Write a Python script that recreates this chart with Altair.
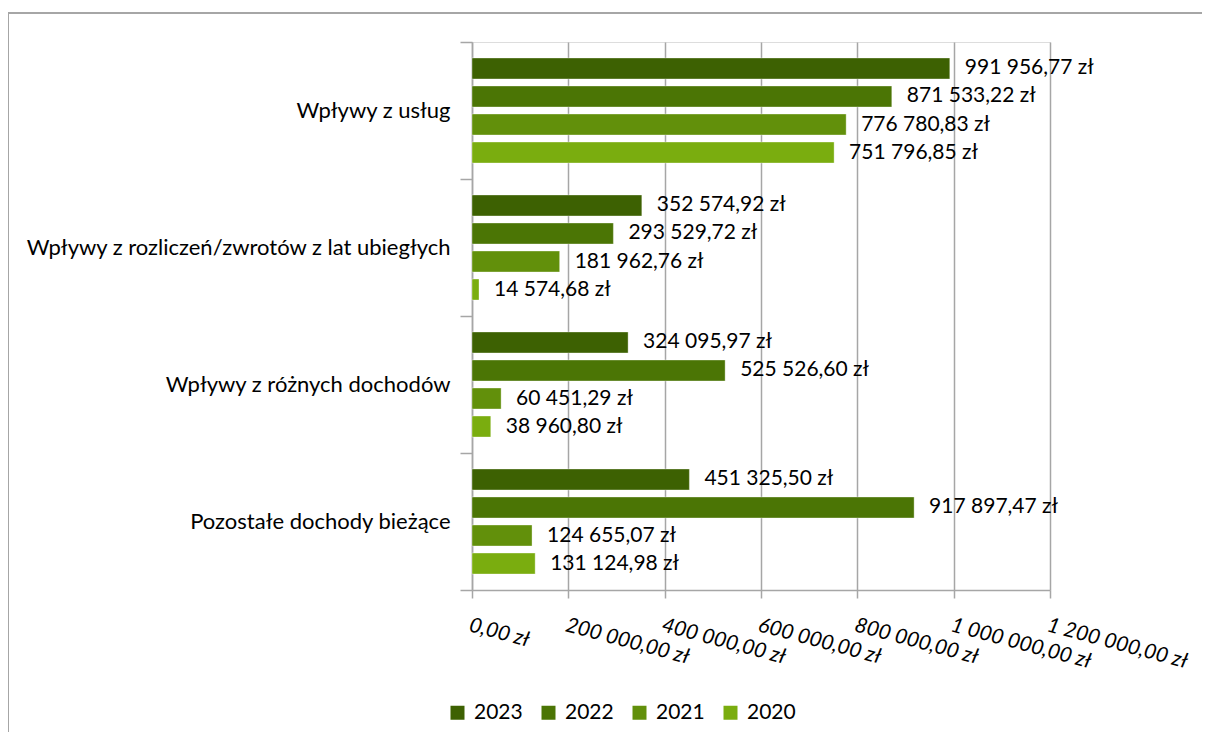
import altair as alt
import pandas as pd

categories = [
    "Wpływy z usług",
    "Wpływy z rozliczeń/zwrotów z lat ubiegłych",
    "Wpływy z różnych dochodów",
    "Pozostałe dochody bieżące",
]
years = ["2023", "2022", "2021", "2020"]
colors = ["#3d6102", "#4b7505", "#62900b", "#7aad0f"]

v2023 = [991956.77, 352574.92, 324095.97, 451325.50]
v2022 = [871533.22, 293529.72, 525526.60, 917897.47]
v2021 = [776780.83, 181962.76, 60451.29, 124655.07]
v2020 = [751796.85, 14574.68, 38960.80, 131124.98]

series = {"2023": v2023, "2022": v2022, "2021": v2021, "2020": v2020}


def pl(v):
    return f"{v:,.2f}".replace(",", " ").replace(".", ",") + " zł"


rows = []
for y in years:
    for c, v in zip(categories, series[y]):
        rows.append({"cat": c, "year": y, "value": v, "label": pl(v)})
df = pd.DataFrame(rows)

FONT = "Lato"
FS = 21
W, H = 578, 548

yenc = alt.Y(
    "cat:N",
    sort=categories,
    title=None,
    scale=alt.Scale(paddingInner=0, paddingOuter=0),
    axis=alt.Axis(
        labelFontSize=22,
        labelFont=FONT,
        labelColor="#000000",
        labelPadding=10,
        tickBand="extent",
        tickSize=12,
        tickColor="#a6a6a6",
        tickWidth=1.5,
        domainColor="#a6a6a6",
        domainWidth=1.5,
        grid=False,
        labelLimit=600,
    ),
)
yoff = alt.YOffset(
    "year:N",
    sort=years,
    scale=alt.Scale(paddingInner=0.25, paddingOuter=0.57),
)
xenc = alt.X(
    "value:Q",
    title=None,
    scale=alt.Scale(domain=[0, 1200000], nice=False),
    axis=alt.Axis(
        values=[0, 200000, 400000, 600000, 800000, 1000000, 1200000],
        labelExpr="replace(replace(format(datum.value, ',.2f'), regexp(',', 'g'), ' '), '.', ',') + ' zł'",
        labelAngle=15,
        labelAlign="left",
        labelBaseline="top",
        labelPadding=16,
        labelFontSize=FS,
        labelFont=FONT,
        labelFontStyle="italic",
        labelColor="#000000",
        labelFlush=False,
        labelOverlap=False,
        tickSize=8,
        tickColor="#a6a6a6",
        tickWidth=1.5,
        domainColor="#a6a6a6",
        domainWidth=1.5,
        grid=True,
        gridColor="#a6a6a6",
        gridWidth=1.5,
    ),
)

base = alt.Chart(df)

bars = base.mark_bar(stroke="#ffffff", strokeOpacity=0.35, strokeWidth=1).encode(
    x=xenc,
    y=yenc,
    yOffset=yoff,
    color=alt.Color(
        "year:N",
        sort=years,
        scale=alt.Scale(domain=years, range=colors),
        legend=alt.Legend(
            title=None,
            orient="none",
            direction="horizontal",
            legendX=-25,
            legendY=660,
            symbolType="square",
            symbolSize=196,
            symbolStrokeWidth=0,
            labelFontSize=FS,
            labelFont=FONT,
            labelColor="#000000",
            labelOffset=6,
            columnPadding=15,
            symbolOffset=0,
        ),
    ),
)

labels = base.mark_text(
    align="left", baseline="middle", dx=15, fontSize=FS, font=FONT, color="#000000"
).encode(
    x="value:Q",
    y=alt.Y("cat:N", sort=categories),
    yOffset=alt.YOffset("year:N", sort=years),
    text="label:N",
)

frame_df = pd.DataFrame({"k": [0]})
frame_top = alt.Chart(frame_df).mark_rule(color="#a6a6a6", strokeWidth=2).encode(
    x=alt.value(-464), x2=alt.value(760), y=alt.value(-29)
)
frame_left = alt.Chart(frame_df).mark_rule(color="#a6a6a6", strokeWidth=2).encode(
    x=alt.value(-464), y=alt.value(-29), y2=alt.value(720)
)

chart = (
    alt.layer(bars, labels, frame_top, frame_left)
    .properties(
        width=W,
        height=H,
        autosize=alt.AutoSizeParams(type="none"),
        padding={"left": 464, "top": 34, "right": 152, "bottom": 142},
    )
    .configure_view(stroke=None)
    .configure(background="#ffffff")
)

chart.save("out.html", embed_options={"renderer": "svg", "actions": False})
